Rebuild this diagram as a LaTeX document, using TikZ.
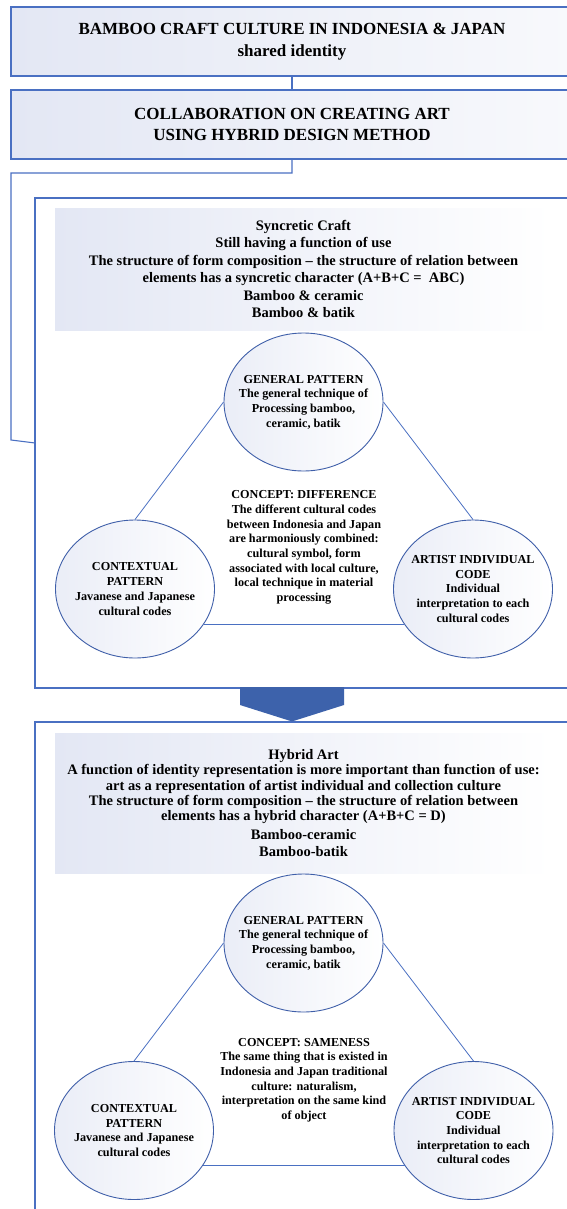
\documentclass[tikz,border=0pt]{standalone}
\usepackage{fontspec}
\setmainfont{Liberation Serif}
\usetikzlibrary{shapes.geometric}
\definecolor{bordblue}{HTML}{4A70C2}
\definecolor{ellblue}{HTML}{3F5FA9}
\definecolor{arrowblue}{HTML}{3D62AB}
\definecolor{shadeA}{HTML}{E3E7F4}
\definecolor{shadeB}{HTML}{F8F9FC}
\begin{document}
\begin{tikzpicture}[x=1pt,y=-1pt,
  hdrbox/.style={rectangle, draw=bordblue, line width=1.1pt, left color=shadeA, right color=shadeB,
    minimum width=562pt, minimum height=69pt, inner sep=0pt, align=center,
    font=\bfseries\fontsize{17}{21.5}\selectfont},
  bigframe/.style={rectangle, draw=bordblue, line width=1.1pt, fill=white, minimum width=538pt, inner sep=0pt},
  shadebox/.style={rectangle, left color=shadeA, middle color=shadeA!35!white, right color=white, minimum width=497pt, inner sep=0pt, align=center},
  ell/.style={ellipse, draw=ellblue, line width=0.9pt, left color=shadeA!75!white, middle color=white, right color=white,
    minimum width=159pt, minimum height=138pt, inner sep=0pt},
  elltext/.style={align=center, inner sep=0pt, font=\bfseries\fontsize{12.2}{14.7}\selectfont},
  conn/.style={draw=bordblue, line width=0.8pt},
  frameline/.style={draw=bordblue, line width=1.1pt}
]
\clip (0,0) rectangle (567,1209);
\fill[white] (0,0) rectangle (567,1209);

% top boxes
\node[hdrbox] (b1) at (292,41.5) {BAMBOO CRAFT CULTURE IN INDONESIA \& JAPAN\\shared identity};
\node[hdrbox] (b2) at (292,124.5) {COLLABORATION ON CREATING ART\\USING HYBRID DESIGN METHOD};
\draw[frameline] (b1.south) -- (b2.north);
\coordinate (ebend) at (35,443);
\draw[frameline] (b2.south) |- (11,173) -- (11,440) -- (ebend);

% syncretic frame
\node[bigframe, minimum height=490pt] (syn) at (304,443) {};
\node[shadebox, minimum height=122pt, font=\bfseries\fontsize{14.5}{17.4}\selectfont] (synhead) at (303.5,269)
 {Syncretic Craft\\Still having a function of use\\The structure of form composition – the structure of relation between\\elements has a syncretic character (A+B+C =\ \ ABC)\\Bamboo \& ceramic\\Bamboo \& batik};

\node[ell] (sg) at (303.5,402) {};
\node[ell] (sl) at (135,589) {};
\node[ell] (sr) at (473,589) {};
\node[elltext] at (sg.center) {GENERAL PATTERN\\The general technique of\\Processing bamboo,\\ceramic, batik};
\node[elltext] at (sl.center) {CONTEXTUAL\\PATTERN\\Javanese and Japanese\\cultural codes};
\node[elltext] at (sr.center) {ARTIST INDIVIDUAL\\CODE\\Individual\\interpretation to each\\cultural codes};
\draw[conn] (sg.west) -- (sl.north);
\draw[conn] (sg.east) -- (sr.north);
\draw[conn] (sl.-27) -- (sr.-153);
\node[elltext] (sconcept) at (304,547.5) {CONCEPT: DIFFERENCE\\The different cultural codes\\between Indonesia and Japan\\are harmoniously combined:\\cultural symbol, form\\associated with local culture,\\local technique in material\\processing};

% hybrid frame
\node[bigframe, minimum height=493pt] (hyb) at (304,968.5) {};
\fill[arrowblue] (240,687) -- (344,687) -- (344,705) -- (hyb.north -| 292,0) -- (240,705) -- cycle;
\node[shadebox, minimum height=140pt, font=\bfseries\fontsize{14.5}{15.3}\selectfont] (hybhead) at (303.5,803)
 {Hybrid Art\\A function of identity representation is more important than function of use:\\art as a representation of artist individual and collection culture\\The structure of form composition – the structure of relation between\\elements has a hybrid character (A+B+C = D)\\[3.5pt]Bamboo-ceramic\\[1.7pt]Bamboo-batik};

\node[ell] (hg) at (303.5,943) {};
\node[ell] (hl) at (134,1130.5) {};
\node[ell] (hr) at (473.5,1130.5) {};
\node[elltext] at (hg.center) {GENERAL PATTERN\\The general technique of\\Processing bamboo,\\ceramic, batik};
\node[elltext] at (hl.center) {CONTEXTUAL\\PATTERN\\Javanese and Japanese\\cultural codes};
\node[elltext] at (hr.center) {ARTIST INDIVIDUAL\\CODE\\Individual\\interpretation to each\\cultural codes};
\draw[conn] (hg.west) -- (hl.north);
\draw[conn] (hg.east) -- (hr.north);
\draw[conn] (hl.-27) -- (hr.-153);
\node[elltext] (hconcept) at (304,1080) {CONCEPT: SAMENESS\\The same thing that is existed in\\Indonesia and Japan traditional\\culture: naturalism,\\interpretation on the same kind\\of object};
\end{tikzpicture}
\end{document}
